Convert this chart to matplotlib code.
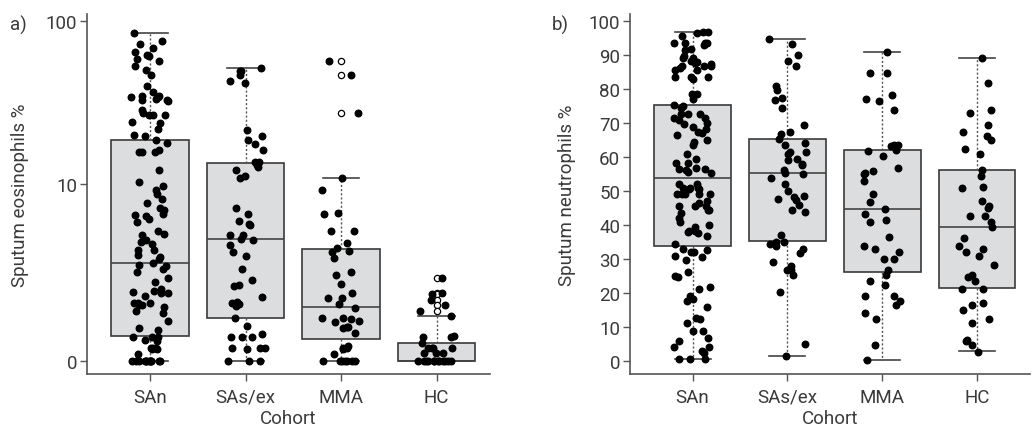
import numpy as np
import matplotlib
matplotlib.use("Agg")
import matplotlib.pyplot as plt

plt.rcParams["font.family"] = ["Roboto", "DejaVu Sans"]

cohorts = ["SAn", "SAs/ex", "MMA", "HC"]

# ---- panel a) sputum eosinophils % (read off the picture) ----
eos_san = [84.3, 72.8, 76, 68.8, 64.9, 62.0, 61.2, 59.1, 57.8, 53.6, 50.7, 47.3, 40.8,
           37.6, 35.3, 33.6, 33.6, 33.9, 34.8, 35.3, 34.8, 33.1, 28.9, 27.8, 27.2, 27,
           27, 24.1, 24.7, 22.4, 20.2, 20.5, 18.9, 18.3, 16.0, 16.0, 16.1, 16.5, 12.4,
           10.4, 9.7, 9.2, 8.6, 8.0, 7.5, 7.0, 6.7, 6.2, 6.3, 6.1, 5.9, 5.6, 4.8, 4.5,
           4.6, 4.0, 3.9, 4.15, 3.5, 3.2, 3.5, 3.0, 3.07, 2.8, 2.65, 2.7, 2.48, 2.35,
           2.1, 1.9, 1.6, 1.5, 1.65, 1.5, 1.56, 1.42, 1.2, 1.2, 1.15, 1.08, 0.98, 1.14,
           1.2, 0.92, 0.73, 0.52, 0.56, 0.39, 0.39, 0.39, 0.32, 0.33, 0.19, 0.17, 0.19,
           0.19, 0.17, 0.1, 0, 0, 0, 0, 0, 0, 0, 0, 0, 0, 0, 0]
eos_sas = [52.3, 50.3, 50.3, 47.2, 42.1, 43.5, 22, 20, 19.1, 17.9, 16.5, 13.9, 13.8,
           13.3, 12.9, 12.3, 11.3, 10.9, 7.0, 6.3, 5.7, 5.3, 5.4, 4.5, 4.5, 4.2, 4.15,
           3.8, 3.4, 3.15, 2.48, 2.0, 1.8, 1.75, 1.37, 1.1, 1.2, 1.23, 1.18, 0.78, 0.6,
           0.44, 0.39, 0.39, 0.39, 0.19, 0.2, 0.19, 0.18, 0, 0, 0]
eos_mma = [57.5, 47.4, 27.8, 11.0, 9.1, 6.3, 6.4, 4.8, 4.85, 3.95, 3.6, 3.4, 3.45,
           3.05, 2.2, 2.35, 1.85, 1.5, 1.35, 1.35, 1.16, 1.04, 0.78, 0.71, 0.78, 0.69,
           0.77, 0.59, 0.56, 0.59, 0.46, 0.22, 0.18, 0.2, 0.19, 0.1, 0, 0, 0, 0, 0, 0, 0]
eos_hc = [2.1, 1.53, 1.48, 1.3, 1.14, 0.96, 0.85, 0.39, 0.41, 0.39, 0.28, 0.2, 0.2,
          0.19, 0.19, 0.11, 0.11, 0.11, 0, 0, 0, 0, 0, 0, 0, 0, 0, 0, 0, 0]

# box stats: whislo, q1, med, q3, whishi, outliers
eos_whislo = [0, 0, 0, 0]
eos_q1 = [0.4, 0.8, 0.35, 0]
eos_med = [2.8, 4.2, 1.08, 0]
eos_q3 = [19.1, 13.6, 3.55, 0.28]
eos_whishi = [84.3, 52.3, 11.0, 0.85]
eos_fliers = [[], [], [57.5, 47.4, 27.8], [2.1, 1.53, 1.48, 1.3, 1.14, 0.96]]

# ---- panel b) sputum neutrophils % ----
neu_san = [96.5, 96.8, 96.8, 95.6, 93.6, 93.5, 93.4, 93.6, 92.9, 91.6, 91.4, 89.8, 89.2,
           88.2, 89.0, 87.5, 87.2, 86.8, 88.0, 86.8, 86.8, 86.2, 85.5, 85.5, 83.6, 82.9,
           83.6, 83.4, 78.6, 76.9, 78.5, 75.0, 75.2, 74.4, 72.5, 72.5, 72.5, 71.3, 71.3,
           70.8, 69.8, 70.0, 68.8, 68.1, 67.2, 66.9, 66.4, 64.4, 63.4, 64.9, 60.8, 59.5,
           58.3, 58.2, 56.1, 56.4, 56.4, 55.6, 55.3, 56.6, 52.1, 50.9, 50.6, 52.1, 50.9,
           50.9, 50.6, 49.1, 49.1, 49.1, 49.1, 49.2, 47.0, 46.4, 45.7, 45.6, 44.5, 44.5,
           45.5, 42.1, 43.6, 40.1, 39.4, 40.8, 36.7, 37.7, 38.1, 37.9, 38.1, 33.0, 34.4,
           32.5, 32.2, 32.2, 29.8, 30.5, 31.0, 26.1, 25.1, 24.8, 21.9, 21.2, 19.0, 18.2,
           16.0, 17.6, 12.8, 12.5, 11.1, 8.9, 8.9, 6.7, 6.0, 4.2, 4.2, 3.0, 2.5, 0.6,
           0.6, 0.6]
neu_sas = [94.6, 93.1, 89.9, 88.3, 86.8, 79.6, 80.8, 77.2, 76.7, 74.5, 69.3, 67.2, 66.6,
           65.4, 64.2, 63.6, 61.5, 61.0, 59.0, 58.0, 59.5, 61.5, 55.4, 57.7, 56.1, 55.1,
           53.9, 52.1, 49.9, 48.5, 47.5, 45.9, 48.2, 47.2, 44.3, 43.8, 37.1, 34.9, 34.9,
           34.4, 33.9, 32.8, 31.8, 29.0, 27.9, 26.9, 26.9, 25.4, 20.4, 5.0, 1.5]
neu_mma = [90.7, 84.8, 84.8, 76.9, 76.4, 78.2, 73.9, 63.1, 61.8, 63.4, 63.4, 62.1, 60.3,
           56.8, 55.4, 54.9, 52.8, 55.9, 49.0, 46.7, 44.8, 43.1, 41.6, 41.0, 36.4, 33.7,
           33.0, 32.0, 30.0, 30.0, 26.9, 25.4, 23.6, 22.5, 19.0, 19.2, 17.6, 16.5, 14.0,
           12.3, 4.8, 0.4]
neu_hc = [89.0, 81.6, 73.0, 73.7, 69.3, 67.2, 66.2, 65.1, 62.4, 60.8, 56.2, 54.3, 51.0,
          51.1, 47.1, 45.7, 45.1, 42.6, 42.5, 41.0, 39.5, 36.2, 33.7, 33.0, 32.2, 30.8,
          28.3, 25.3, 24.8, 23.4, 21.2, 21.2, 16.5, 15.0, 17.1, 12.4, 11.1, 4.7, 2.8,
          5.8, 6.2]

neu_whislo = [0.6, 1.5, 0.4, 3.0]
neu_q1 = [33.8, 35.4, 26.1, 21.4]
neu_med = [53.8, 55.4, 44.7, 39.5]
neu_q3 = [75.2, 65.4, 62.0, 56.2]
neu_whishi = [96.8, 94.6, 90.7, 89.0]
neu_fliers = [[], [], [], []]

TEXT = "#3a3a3a"
FS = 13.5


def box_stats(lo, q1, med, q3, hi, fliers):
    return [dict(whislo=a, q1=b, med=c, q3=d, whishi=e, fliers=f)
            for a, b, c, d, e, f in zip(lo, q1, med, q3, hi, fliers)]


def draw_panel(ax, groups, stats, seed):
    ax.bxp(stats, positions=[1, 2, 3, 4], widths=0.81, capwidths=0.38,
           patch_artist=True, manage_ticks=False,
           boxprops=dict(facecolor="#dcdddf", edgecolor="#3a3a3a", linewidth=1.2),
           medianprops=dict(color="#444444", linewidth=1.2),
           whiskerprops=dict(color="#555555", linewidth=1.0, linestyle=(0, (1.5, 1.5))),
           capprops=dict(color="#444444", linewidth=1.2),
           flierprops=dict(marker="o", markerfacecolor="white", markeredgecolor="black",
                           markersize=4.5, markeredgewidth=0.9))
    # jittered dots (jitter only moves them sideways)
    rng = np.random.default_rng(seed)
    for i, vals in enumerate(groups):
        x = (i + 1) + rng.uniform(-0.2, 0.2, len(vals))
        ax.plot(x, vals, "o", color="black", markersize=4.7, zorder=3)

    ax.set_xticks([1, 2, 3, 4])
    ax.set_xticklabels(cohorts)
    ax.set_xlim(0.34, 4.56)
    ax.set_xlabel("Cohort", fontsize=FS, color=TEXT, labelpad=2)
    for side in ["top", "right"]:
        ax.spines[side].set_visible(False)
    for side in ["left", "bottom"]:
        ax.spines[side].set_color("#555555")
        ax.spines[side].set_linewidth(1.2)
    ax.tick_params(length=5, width=1, color="#555555", labelsize=FS,
                   labelcolor=TEXT)
    ax.tick_params(axis="x", pad=5)
    ax.tick_params(axis="y", pad=2)


fig = plt.figure(figsize=(10.32, 4.31), dpi=100)
ax1 = fig.add_axes([0.0843, 0.1299, 0.3905, 0.8353])
ax2 = fig.add_axes([0.6105, 0.1299, 0.3876, 0.8353])

# panel a uses a log(x+1) axis
ax1.set_yscale("function", functions=(lambda v: np.log10(np.clip(v, -0.99, None) + 1),
                                      lambda t: 10 ** t - 1))
draw_panel(ax1, [eos_san, eos_sas, eos_mma, eos_hc],
           box_stats(eos_whislo, eos_q1, eos_med, eos_q3, eos_whishi, eos_fliers), 3)
ax1.set_ylim(-0.162, 109.6)
ax1.set_yticks([0, 10, 100])
ax1.set_yticklabels(["0", "10", "100"])
ax1.set_ylabel("Sputum eosinophils %", fontsize=FS, color=TEXT, labelpad=12)

draw_panel(ax2, [neu_san, neu_sas, neu_mma, neu_hc],
           box_stats(neu_whislo, neu_q1, neu_med, neu_q3, neu_whishi, neu_fliers), 7)
ax2.set_ylim(-3.8, 102)
ax2.set_yticks(range(0, 101, 10))
ax2.set_ylabel("Sputum neutrophils %", fontsize=FS, color=TEXT, labelpad=9)

fig.text(10 / 1032, 1 - 31 / 431, "a)", fontsize=FS, color=TEXT)
fig.text(552 / 1032, 1 - 31 / 431, "b)", fontsize=FS, color=TEXT)

fig.savefig("out.png", dpi=100)
